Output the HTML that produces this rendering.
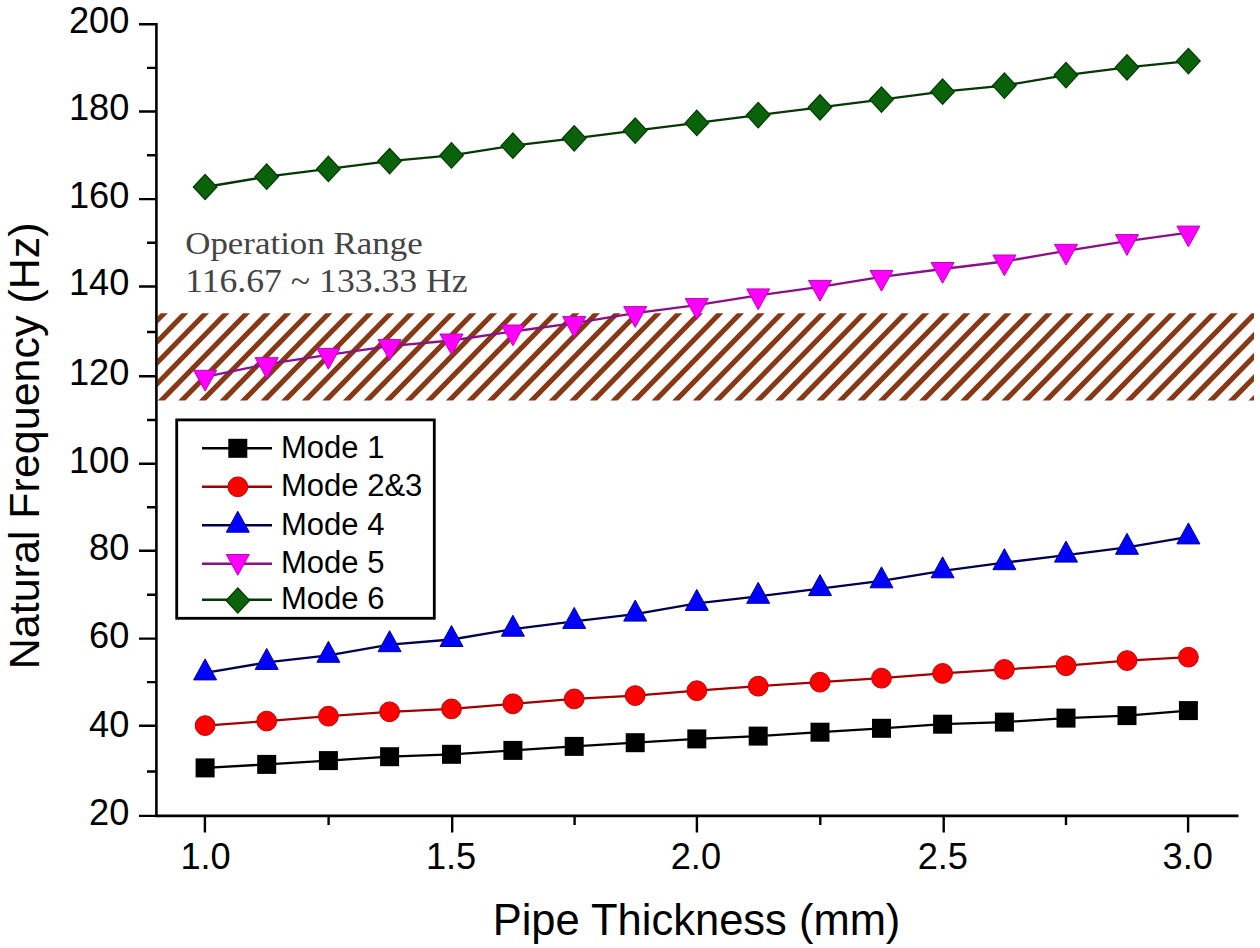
<!DOCTYPE html>
<html><head><meta charset="utf-8"><title>Natural Frequency vs Pipe Thickness</title>
<style>
html,body{margin:0;padding:0;background:#fff;width:1260px;height:948px;overflow:hidden}
svg{display:block}
</style></head><body>
<svg width="1260" height="948" viewBox="0 0 1260 948" font-family="'Liberation Sans', sans-serif" font-size="36.2">
<rect width="1260" height="948" fill="#fff"/>
<clipPath id="hc"><rect x="157.5" y="313.3" width="1096.5" height="87.09999999999997"/></clipPath>
<path clip-path="url(#hc)" d="M1.6 311.3L-87.4 402.4M22.1 311.3L-66.9 402.4M42.7 311.3L-46.3 402.4M63.3 311.3L-25.7 402.4M83.9 311.3L-5.1 402.4M104.5 311.3L15.5 402.4M125 311.3L36 402.4M145.6 311.3L56.6 402.4M166.2 311.3L77.2 402.4M186.8 311.3L97.8 402.4M207.4 311.3L118.4 402.4M227.9 311.3L138.9 402.4M248.5 311.3L159.5 402.4M269.1 311.3L180.1 402.4M289.7 311.3L200.7 402.4M310.3 311.3L221.3 402.4M330.8 311.3L241.8 402.4M351.4 311.3L262.4 402.4M372 311.3L283 402.4M392.6 311.3L303.6 402.4M413.2 311.3L324.2 402.4M433.7 311.3L344.7 402.4M454.3 311.3L365.3 402.4M474.9 311.3L385.9 402.4M495.5 311.3L406.5 402.4M516.1 311.3L427.1 402.4M536.6 311.3L447.6 402.4M557.2 311.3L468.2 402.4M577.8 311.3L488.8 402.4M598.4 311.3L509.4 402.4M619 311.3L530 402.4M639.5 311.3L550.5 402.4M660.1 311.3L571.1 402.4M680.7 311.3L591.7 402.4M701.3 311.3L612.3 402.4M721.9 311.3L632.9 402.4M742.4 311.3L653.4 402.4M763 311.3L674 402.4M783.6 311.3L694.6 402.4M804.2 311.3L715.2 402.4M824.8 311.3L735.8 402.4M845.3 311.3L756.3 402.4M865.9 311.3L776.9 402.4M886.5 311.3L797.5 402.4M907.1 311.3L818.1 402.4M927.7 311.3L838.7 402.4M948.2 311.3L859.2 402.4M968.8 311.3L879.8 402.4M989.4 311.3L900.4 402.4M1010 311.3L921 402.4M1030.6 311.3L941.6 402.4M1051.1 311.3L962.1 402.4M1071.7 311.3L982.7 402.4M1092.3 311.3L1003.3 402.4M1112.9 311.3L1023.9 402.4M1133.5 311.3L1044.5 402.4M1154 311.3L1065 402.4M1174.6 311.3L1085.6 402.4M1195.2 311.3L1106.2 402.4M1215.8 311.3L1126.8 402.4M1236.4 311.3L1147.4 402.4M1256.9 311.3L1167.9 402.4M1277.5 311.3L1188.5 402.4M1298.1 311.3L1209.1 402.4M1318.7 311.3L1229.7 402.4M1339.3 311.3L1250.3 402.4M1359.8 311.3L1270.8 402.4M1380.4 311.3L1291.4 402.4" stroke="#883814" stroke-width="5.1" fill="none"/>
<polyline points="205.1,767.9 266.7,764.4 328.4,760.6 389.6,756.7 451.5,754.3 512.9,750.4 574.2,746.4 635.2,742.7 696.8,738.9 758.2,736.1 820,732.2 881.5,728.3 942.6,724.2 1004.4,722.1 1066,718.1 1127,715.6 1188.4,710.6" fill="none" stroke="#000000" stroke-width="2.3" stroke-linejoin="round"/>
<rect x="195.6" y="758.4" width="19" height="19" fill="#000000"/>
<rect x="257.2" y="754.9" width="19" height="19" fill="#000000"/>
<rect x="318.9" y="751.1" width="19" height="19" fill="#000000"/>
<rect x="380.1" y="747.2" width="19" height="19" fill="#000000"/>
<rect x="442" y="744.8" width="19" height="19" fill="#000000"/>
<rect x="503.4" y="740.9" width="19" height="19" fill="#000000"/>
<rect x="564.7" y="736.9" width="19" height="19" fill="#000000"/>
<rect x="625.7" y="733.2" width="19" height="19" fill="#000000"/>
<rect x="687.3" y="729.4" width="19" height="19" fill="#000000"/>
<rect x="748.7" y="726.6" width="19" height="19" fill="#000000"/>
<rect x="810.5" y="722.7" width="19" height="19" fill="#000000"/>
<rect x="872" y="718.8" width="19" height="19" fill="#000000"/>
<rect x="933.1" y="714.7" width="19" height="19" fill="#000000"/>
<rect x="994.9" y="712.6" width="19" height="19" fill="#000000"/>
<rect x="1056.5" y="708.6" width="19" height="19" fill="#000000"/>
<rect x="1117.5" y="706.1" width="19" height="19" fill="#000000"/>
<rect x="1178.9" y="701.1" width="19" height="19" fill="#000000"/>
<polyline points="205.1,725.6 266.7,721.1 328.4,716.2 389.6,711.8 451.5,708.9 512.9,703.8 574.2,698.9 635.2,695.6 696.8,690.7 758.2,686.2 820,682.2 881.5,678.2 942.6,673.4 1004.4,669.4 1066,665.7 1127,660.6 1188.4,657.2" fill="none" stroke="#a00000" stroke-width="2.3" stroke-linejoin="round"/>
<circle cx="205.1" cy="725.6" r="9.9" fill="#ff0000" stroke="#c00000" stroke-width="1"/>
<circle cx="266.7" cy="721.1" r="9.9" fill="#ff0000" stroke="#c00000" stroke-width="1"/>
<circle cx="328.4" cy="716.2" r="9.9" fill="#ff0000" stroke="#c00000" stroke-width="1"/>
<circle cx="389.6" cy="711.8" r="9.9" fill="#ff0000" stroke="#c00000" stroke-width="1"/>
<circle cx="451.5" cy="708.9" r="9.9" fill="#ff0000" stroke="#c00000" stroke-width="1"/>
<circle cx="512.9" cy="703.8" r="9.9" fill="#ff0000" stroke="#c00000" stroke-width="1"/>
<circle cx="574.2" cy="698.9" r="9.9" fill="#ff0000" stroke="#c00000" stroke-width="1"/>
<circle cx="635.2" cy="695.6" r="9.9" fill="#ff0000" stroke="#c00000" stroke-width="1"/>
<circle cx="696.8" cy="690.7" r="9.9" fill="#ff0000" stroke="#c00000" stroke-width="1"/>
<circle cx="758.2" cy="686.2" r="9.9" fill="#ff0000" stroke="#c00000" stroke-width="1"/>
<circle cx="820" cy="682.2" r="9.9" fill="#ff0000" stroke="#c00000" stroke-width="1"/>
<circle cx="881.5" cy="678.2" r="9.9" fill="#ff0000" stroke="#c00000" stroke-width="1"/>
<circle cx="942.6" cy="673.4" r="9.9" fill="#ff0000" stroke="#c00000" stroke-width="1"/>
<circle cx="1004.4" cy="669.4" r="9.9" fill="#ff0000" stroke="#c00000" stroke-width="1"/>
<circle cx="1066" cy="665.7" r="9.9" fill="#ff0000" stroke="#c00000" stroke-width="1"/>
<circle cx="1127" cy="660.6" r="9.9" fill="#ff0000" stroke="#c00000" stroke-width="1"/>
<circle cx="1188.4" cy="657.2" r="9.9" fill="#ff0000" stroke="#c00000" stroke-width="1"/>
<polyline points="205.1,672.9 266.7,662.4 328.4,655.3 389.6,644.7 451.5,639.5 512.9,629.2 574.2,621.4 635.2,614.1 696.8,603.4 758.2,596.3 820,588.6 881.5,580.8 942.6,570.8 1004.4,562.7 1066,555.1 1127,547.3 1188.4,536.9" fill="none" stroke="#000050" stroke-width="2.3" stroke-linejoin="round"/>
<path d="M205.1 658.9L216.6 679.9L193.6 679.9Z" fill="#0000ff" stroke="#0000a0" stroke-width="1"/>
<path d="M266.7 648.4L278.2 669.4L255.2 669.4Z" fill="#0000ff" stroke="#0000a0" stroke-width="1"/>
<path d="M328.4 641.3L339.9 662.3L316.9 662.3Z" fill="#0000ff" stroke="#0000a0" stroke-width="1"/>
<path d="M389.6 630.7L401.1 651.7L378.1 651.7Z" fill="#0000ff" stroke="#0000a0" stroke-width="1"/>
<path d="M451.5 625.5L463 646.5L440 646.5Z" fill="#0000ff" stroke="#0000a0" stroke-width="1"/>
<path d="M512.9 615.2L524.4 636.2L501.4 636.2Z" fill="#0000ff" stroke="#0000a0" stroke-width="1"/>
<path d="M574.2 607.4L585.7 628.4L562.7 628.4Z" fill="#0000ff" stroke="#0000a0" stroke-width="1"/>
<path d="M635.2 600.1L646.7 621.1L623.7 621.1Z" fill="#0000ff" stroke="#0000a0" stroke-width="1"/>
<path d="M696.8 589.4L708.3 610.4L685.3 610.4Z" fill="#0000ff" stroke="#0000a0" stroke-width="1"/>
<path d="M758.2 582.3L769.7 603.3L746.7 603.3Z" fill="#0000ff" stroke="#0000a0" stroke-width="1"/>
<path d="M820 574.6L831.5 595.6L808.5 595.6Z" fill="#0000ff" stroke="#0000a0" stroke-width="1"/>
<path d="M881.5 566.8L893 587.8L870 587.8Z" fill="#0000ff" stroke="#0000a0" stroke-width="1"/>
<path d="M942.6 556.8L954.1 577.8L931.1 577.8Z" fill="#0000ff" stroke="#0000a0" stroke-width="1"/>
<path d="M1004.4 548.7L1015.9 569.7L992.9 569.7Z" fill="#0000ff" stroke="#0000a0" stroke-width="1"/>
<path d="M1066 541.1L1077.5 562.1L1054.5 562.1Z" fill="#0000ff" stroke="#0000a0" stroke-width="1"/>
<path d="M1127 533.3L1138.5 554.3L1115.5 554.3Z" fill="#0000ff" stroke="#0000a0" stroke-width="1"/>
<path d="M1188.4 522.9L1199.9 543.9L1176.9 543.9Z" fill="#0000ff" stroke="#0000a0" stroke-width="1"/>
<polyline points="205.1,376.8 266.7,364.2 328.4,354.9 389.6,346.1 451.5,340.5 512.9,331.5 574.2,323.1 635.2,313.1 696.8,305.1 758.2,295.4 820,286.9 881.5,276.9 942.6,269 1004.4,261.5 1066,250.8 1127,241.1 1188.4,232.6" fill="none" stroke="#8a108a" stroke-width="2.3" stroke-linejoin="round"/>
<path d="M193.6 370.3L216.6 370.3L205.1 391.1Z" fill="#ff00ff" stroke="#c000c0" stroke-width="1"/>
<path d="M255.2 357.7L278.2 357.7L266.7 378.5Z" fill="#ff00ff" stroke="#c000c0" stroke-width="1"/>
<path d="M316.9 348.4L339.9 348.4L328.4 369.2Z" fill="#ff00ff" stroke="#c000c0" stroke-width="1"/>
<path d="M378.1 339.6L401.1 339.6L389.6 360.4Z" fill="#ff00ff" stroke="#c000c0" stroke-width="1"/>
<path d="M440 334L463 334L451.5 354.8Z" fill="#ff00ff" stroke="#c000c0" stroke-width="1"/>
<path d="M501.4 325L524.4 325L512.9 345.8Z" fill="#ff00ff" stroke="#c000c0" stroke-width="1"/>
<path d="M562.7 316.6L585.7 316.6L574.2 337.4Z" fill="#ff00ff" stroke="#c000c0" stroke-width="1"/>
<path d="M623.7 306.6L646.7 306.6L635.2 327.4Z" fill="#ff00ff" stroke="#c000c0" stroke-width="1"/>
<path d="M685.3 298.6L708.3 298.6L696.8 319.4Z" fill="#ff00ff" stroke="#c000c0" stroke-width="1"/>
<path d="M746.7 288.9L769.7 288.9L758.2 309.7Z" fill="#ff00ff" stroke="#c000c0" stroke-width="1"/>
<path d="M808.5 280.4L831.5 280.4L820 301.2Z" fill="#ff00ff" stroke="#c000c0" stroke-width="1"/>
<path d="M870 270.4L893 270.4L881.5 291.2Z" fill="#ff00ff" stroke="#c000c0" stroke-width="1"/>
<path d="M931.1 262.5L954.1 262.5L942.6 283.3Z" fill="#ff00ff" stroke="#c000c0" stroke-width="1"/>
<path d="M992.9 255L1015.9 255L1004.4 275.8Z" fill="#ff00ff" stroke="#c000c0" stroke-width="1"/>
<path d="M1054.5 244.3L1077.5 244.3L1066 265.1Z" fill="#ff00ff" stroke="#c000c0" stroke-width="1"/>
<path d="M1115.5 234.6L1138.5 234.6L1127 255.4Z" fill="#ff00ff" stroke="#c000c0" stroke-width="1"/>
<path d="M1176.9 226.1L1199.9 226.1L1188.4 246.9Z" fill="#ff00ff" stroke="#c000c0" stroke-width="1"/>
<polyline points="205.1,187 266.7,176.7 328.4,168.9 389.6,161.1 451.5,155.4 512.9,145.7 574.2,138.3 635.2,130.6 696.8,122.9 758.2,115.1 820,107.3 881.5,99.6 942.6,91.7 1004.4,85.6 1066,75.1 1127,67.3 1188.4,61.1" fill="none" stroke="#063806" stroke-width="2.3" stroke-linejoin="round"/>
<path d="M205.1 174.3L216.9 187L205.1 199.7L193.3 187Z" fill="#0a620a" stroke="#043804" stroke-width="1.2"/>
<path d="M266.7 164L278.5 176.7L266.7 189.4L254.9 176.7Z" fill="#0a620a" stroke="#043804" stroke-width="1.2"/>
<path d="M328.4 156.2L340.2 168.9L328.4 181.6L316.6 168.9Z" fill="#0a620a" stroke="#043804" stroke-width="1.2"/>
<path d="M389.6 148.4L401.4 161.1L389.6 173.8L377.8 161.1Z" fill="#0a620a" stroke="#043804" stroke-width="1.2"/>
<path d="M451.5 142.7L463.3 155.4L451.5 168.1L439.7 155.4Z" fill="#0a620a" stroke="#043804" stroke-width="1.2"/>
<path d="M512.9 133L524.7 145.7L512.9 158.4L501.1 145.7Z" fill="#0a620a" stroke="#043804" stroke-width="1.2"/>
<path d="M574.2 125.6L586 138.3L574.2 151L562.4 138.3Z" fill="#0a620a" stroke="#043804" stroke-width="1.2"/>
<path d="M635.2 117.9L647 130.6L635.2 143.3L623.4 130.6Z" fill="#0a620a" stroke="#043804" stroke-width="1.2"/>
<path d="M696.8 110.2L708.6 122.9L696.8 135.6L685 122.9Z" fill="#0a620a" stroke="#043804" stroke-width="1.2"/>
<path d="M758.2 102.4L770 115.1L758.2 127.8L746.4 115.1Z" fill="#0a620a" stroke="#043804" stroke-width="1.2"/>
<path d="M820 94.6L831.8 107.3L820 120L808.2 107.3Z" fill="#0a620a" stroke="#043804" stroke-width="1.2"/>
<path d="M881.5 86.9L893.3 99.6L881.5 112.3L869.7 99.6Z" fill="#0a620a" stroke="#043804" stroke-width="1.2"/>
<path d="M942.6 79L954.4 91.7L942.6 104.4L930.8 91.7Z" fill="#0a620a" stroke="#043804" stroke-width="1.2"/>
<path d="M1004.4 72.9L1016.2 85.6L1004.4 98.3L992.6 85.6Z" fill="#0a620a" stroke="#043804" stroke-width="1.2"/>
<path d="M1066 62.4L1077.8 75.1L1066 87.8L1054.2 75.1Z" fill="#0a620a" stroke="#043804" stroke-width="1.2"/>
<path d="M1127 54.6L1138.8 67.3L1127 80L1115.2 67.3Z" fill="#0a620a" stroke="#043804" stroke-width="1.2"/>
<path d="M1188.4 48.4L1200.2 61.1L1188.4 73.8L1176.6 61.1Z" fill="#0a620a" stroke="#043804" stroke-width="1.2"/>
<path d="M156.4 22.9V817.2M155.1 815.9H1238.5" stroke="#000" stroke-width="2.6" fill="none"/>
<path d="M139 24.2H156M139 111.5H156M139 199.1H156M139 286.5H156M139 376.3H156M139 463.7H156M139 550.8H156M139 638.6H156M139 725.8H156M139 815.9H156M147 67.9H156M147 155.2H156M147 242.8H156M147 332H156M147 420H156M147 507.2H156M147 594.7H156M147 682.1H156M147 771.5H156M204.9 816V832.5M452.2 816V832.5M696.9 816V832.5M943.7 816V832.5M1188.1 816V832.5M328.6 816V825M574.6 816V825M820.3 816V825M1066 816V825" stroke="#000" stroke-width="2.4" fill="none"/>
<text x="129.3" y="32.5" text-anchor="end">200</text>
<text x="129.3" y="120.2" text-anchor="end">180</text>
<text x="129.3" y="208" text-anchor="end">160</text>
<text x="129.3" y="295.2" text-anchor="end">140</text>
<text x="129.3" y="385" text-anchor="end">120</text>
<text x="129.3" y="472.5" text-anchor="end">100</text>
<text x="129.3" y="560.2" text-anchor="end">80</text>
<text x="129.3" y="648" text-anchor="end">60</text>
<text x="129.3" y="737.3" text-anchor="end">40</text>
<text x="129.3" y="824.8" text-anchor="end">20</text>
<text x="205.6" y="868.5" text-anchor="middle">1.0</text>
<text x="451.1" y="868.5" text-anchor="middle">1.5</text>
<text x="695.9" y="868.5" text-anchor="middle">2.0</text>
<text x="942.8" y="868.5" text-anchor="middle">2.5</text>
<text x="1187.7" y="868.5" text-anchor="middle">3.0</text>
<text x="696.5" y="935.3" text-anchor="middle" font-size="43.5">Pipe Thickness (mm)</text>
<text transform="translate(39 445.8) rotate(-90)" text-anchor="middle" font-size="43">Natural Frequency (Hz)</text>
<text x="185.2" y="254" font-family="Liberation Serif, serif" font-size="32" fill="#444444" textLength="237.5" lengthAdjust="spacingAndGlyphs">Operation Range</text>
<text x="185.2" y="292" font-family="Liberation Serif, serif" font-size="33" fill="#444444" textLength="282.5" lengthAdjust="spacingAndGlyphs">116.67 ~ 133.33 Hz</text>
<rect x="176.7" y="419.9" width="257.6" height="198.4" fill="#fff" stroke="#000" stroke-width="2.8"/>
<path d="M202 448.3H272" stroke="#000000" stroke-width="2.6"/>
<rect x="228.3" y="438.8" width="19" height="19" fill="#000000"/>
<text x="281" y="457.7" font-size="31">Mode 1</text>
<path d="M202 486.8H272" stroke="#a00000" stroke-width="2.6"/>
<circle cx="237.8" cy="486.8" r="9.9" fill="#ff0000" stroke="#c00000" stroke-width="1"/>
<text x="281" y="496.1" font-size="31">Mode 2&amp;3</text>
<path d="M202 525.2H272" stroke="#000050" stroke-width="2.6"/>
<path d="M237.8 511.2L249.3 532.2L226.3 532.2Z" fill="#0000ff" stroke="#0000a0" stroke-width="1"/>
<text x="281" y="534.7" font-size="31">Mode 4</text>
<path d="M202 563.8H272" stroke="#8a108a" stroke-width="2.6"/>
<path d="M226.3 554.5L249.3 554.5L237.8 575.3Z" fill="#ff00ff" stroke="#c000c0" stroke-width="1"/>
<text x="281" y="573.1" font-size="31">Mode 5</text>
<path d="M202 599.8H272" stroke="#063806" stroke-width="2.6"/>
<path d="M237.8 587.8L249.6 600.5L237.8 613.2L226 600.5Z" fill="#0a620a" stroke="#043804" stroke-width="1.2"/>
<text x="281" y="609.2" font-size="31">Mode 6</text>
</svg>
</body></html>
